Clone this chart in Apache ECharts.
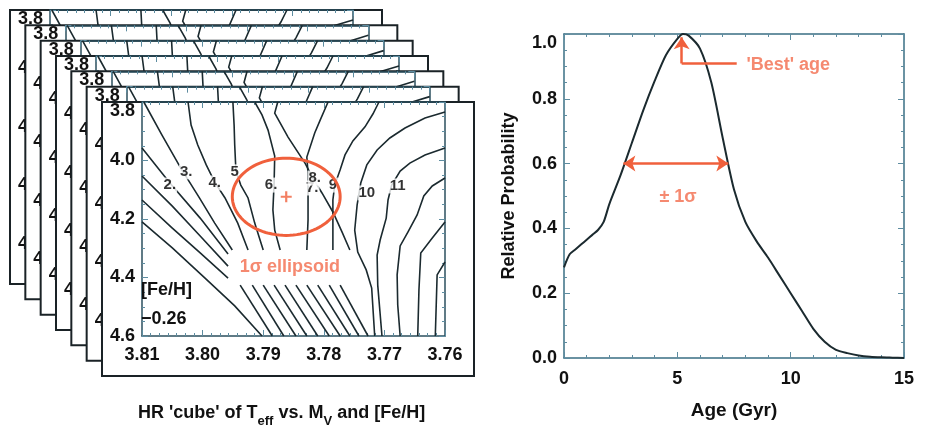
<!DOCTYPE html>
<html>
<head>
<meta charset="utf-8">
<script src="https://cdn.jsdelivr.net/npm/echarts@6/dist/echarts.min.js"></script>
<style>
  html, body { margin: 0; padding: 0; background: #ffffff; }
  #chart { width: 926px; height: 427px; }
</style>
</head>
<body>
<div id="chart"></div>
<script>
// ---------- Left panel: stacked HR diagrams, isochrones in (log Teff, Mv) ----------
const teffRange = [3.76, 3.81];
const mvRange = [3.8, 4.6];

const isoYoung1 = [[3.8100,4.210],[3.8050,4.299],[3.7996,4.402],[3.7947,4.497],[3.7902,4.600]];
const isoYoung2Upper = [[3.8100,4.135],[3.8050,4.231],[3.8004,4.316],[3.7958,4.402]];
const isoYoung2Lower = [[3.7938,4.426],[3.7885,4.600]];
const isoYoung3Upper = [[3.8100,4.053],[3.8050,4.156],[3.8004,4.258],[3.7958,4.361]];
const isoYoung3Lower = [[3.7918,4.426],[3.7866,4.600]];
const iso2Upper = [[3.8100,3.957],[3.8054,4.077],[3.8004,4.197],[3.7958,4.320]];
const iso2Lower = [[3.7900,4.426],[3.7846,4.600]];
const iso3Upper = [[3.8097,3.800],[3.8067,3.913],[3.8036,4.026],[3.8006,4.125],[3.7980,4.214],[3.7951,4.306]];
const iso3Lower = [[3.7882,4.426],[3.7828,4.600]];
const iso4Upper = [[3.8024,3.800],[3.8019,3.879],[3.8008,3.947],[3.7994,4.015],[3.7980,4.074],[3.7963,4.128],[3.7942,4.214],[3.7925,4.306]];
const iso4Lower = [[3.7864,4.426],[3.7810,4.600]];
const iso5Upper = [[3.7950,3.800],[3.7948,3.879],[3.7947,3.947],[3.7945,4.036],[3.7937,4.084],[3.7925,4.128],[3.7914,4.214],[3.7900,4.306]];
const iso5Lower = [[3.7846,4.426],[3.7791,4.600]];
const iso6Upper = [[3.7914,3.800],[3.7902,3.844],[3.7892,3.896],[3.7881,3.985],[3.7882,4.077],[3.7884,4.169],[3.7881,4.238],[3.7872,4.306]];
const iso6Lower = [[3.7828,4.426],[3.7773,4.600]];
const iso7Upper = [[3.7793,3.800],[3.7806,3.862],[3.7815,3.906],[3.7828,3.988],[3.7826,4.043],[3.7826,4.111],[3.7826,4.203],[3.7828,4.306]];
const iso7Lower = [[3.7810,4.426],[3.7757,4.600]];
const iso8Upper = [[3.7876,3.800],[3.7881,3.838],[3.7859,3.920],[3.7831,4.009],[3.7818,4.060],[3.7803,4.111],[3.7785,4.176],[3.7770,4.244],[3.7757,4.306]];
const iso8Lower = [[3.7773,4.426],[3.7727,4.600]];
const iso9Upper = [[3.7709,3.800],[3.7719,3.841],[3.7732,3.885],[3.7752,3.933],[3.7765,3.981],[3.7773,4.032],[3.7782,4.084],[3.7785,4.135],[3.7785,4.221],[3.7785,4.306]];
const iso9Lower = [[3.7791,4.426],[3.7742,4.600]];
const iso10 = [[3.7600,3.834],[3.7633,3.855],[3.7666,3.889],[3.7691,3.923],[3.7712,3.964],[3.7729,4.015],[3.7739,4.077],[3.7745,4.152],[3.7749,4.238],[3.7744,4.313],[3.7730,4.374],[3.7721,4.436],[3.7716,4.600]];
const iso11 = [[3.7600,3.957],[3.7633,3.981],[3.7658,4.009],[3.7674,4.036],[3.7688,4.084],[3.7694,4.135],[3.7697,4.197],[3.7707,4.272],[3.7712,4.323],[3.7711,4.426],[3.7704,4.600]];
const iso12 = [[3.7600,4.060],[3.7621,4.087],[3.7635,4.121],[3.7646,4.186],[3.7661,4.244],[3.7674,4.292],[3.7679,4.391],[3.7678,4.494],[3.7674,4.600]];
const iso13 = [[3.7600,4.210],[3.7621,4.265],[3.7640,4.316],[3.7643,4.443],[3.7645,4.600]];
const iso14 = [[3.7600,4.347],[3.7613,4.391],[3.7616,4.600]];

const isochroneSegments = [
  isoYoung1, isoYoung2Upper, isoYoung2Lower, isoYoung3Upper, isoYoung3Lower,
  iso2Upper, iso2Lower, iso3Upper, iso3Lower, iso4Upper, iso4Lower,
  iso5Upper, iso5Lower, iso6Upper, iso6Lower, iso7Upper, iso7Lower,
  iso8Upper, iso8Lower, iso9Upper, iso9Lower, iso10, iso11, iso12, iso13, iso14
];

// isochrone age labels (Gyr) and where they sit
const isoLabelText = ['2.', '3.', '4.', '5', '6.', '7.', '8.', '9', '10', '11'];
const isoLabelTeff = [3.8054, 3.8027, 3.7980, 3.7947, 3.7887, 3.7819, 3.7815, 3.7785, 3.7729, 3.7678];
const isoLabelMv   = [4.084, 4.039, 4.077, 4.039, 4.084, 4.094, 4.060, 4.084, 4.111, 4.087];

// best fit and its 1-sigma half widths (log Teff, Mv)
const bestFit = [3.7862, 4.124];
const sigmaHalfWidth = [0.0089, 0.132];
const ellipseCaptionAt = [3.7856, 4.364];

// ---------- Right panel: age probability ----------
const ageGyr = [0, 0.25, 0.5, 0.75, 1, 1.25, 1.5, 1.75, 2, 2.5, 3, 3.5, 4, 4.5, 5, 5.25, 5.5, 6, 6.5, 7, 7.5, 8, 8.5, 9, 9.5, 10, 10.5, 11, 11.5, 12, 12.5, 13, 13.5, 14, 14.5, 15];
const relProb = [0.28, 0.32, 0.335, 0.35, 0.365, 0.38, 0.395, 0.42, 0.475, 0.565, 0.665, 0.765, 0.855, 0.935, 0.985, 1.0, 0.995, 0.955, 0.85, 0.68, 0.52, 0.42, 0.36, 0.31, 0.255, 0.2, 0.145, 0.09, 0.05, 0.025, 0.015, 0.008, 0.004, 0.002, 0.001, 0.0];
const bestAgeArrow = [[7.62, 0.909], [5.19, 0.909], [5.19, 0.99]];
const sigmaArrow = [[2.62, 0.6], [7.25, 0.6]];
const bestAgeNoteAt = [8.05, 0.905];
const sigmaNoteAt = [5.03, 0.497];

// ---------- styling ----------
const FONT = "'Liberation Sans', Arial, Helvetica, sans-serif";
const ORANGE = '#f0603c';
const ORANGE_TEXT = '#f26c4c';
const AXIS_DARK = '#2b4f5e';
const TICK = '#5d8ca0';
const INK = '#1b2a2f';

const FRAMES = 7;
const STEP = 92 / 6;
const FRAME_W = 372, FRAME_H = 274;
const PLOT_DX = 40, PLOT_W = 303, PLOT_H = 234;

const grids = [], xAxes = [], yAxes = [], series = [];

function boxAxes(gridIndex, z, opts) {
  const common = {
    gridIndex, type: 'value', z, splitLine: { show: false },
    axisLine: { show: true, onZero: false, lineStyle: { color: opts.lineColor, width: 1.5 } },
    axisTick: { show: true, inside: true, length: 6, lineStyle: { color: TICK, width: 1 } },
    minorTick: { show: true, length: 3, lineStyle: { color: TICK, width: 1 } }
  };
  const labelStyle = { fontFamily: FONT, fontWeight: 'bold', fontSize: 18, color: '#111' };
  const xBase = Object.assign({}, common, {
    min: opts.x.min, max: opts.x.max, interval: opts.x.interval, inverse: !!opts.x.inverse
  });
  const yBase = Object.assign({}, common, {
    min: opts.y.min, max: opts.y.max, interval: opts.y.interval, inverse: !!opts.y.inverse
  });
  xAxes.push(Object.assign({}, xBase, {
    position: 'bottom',
    minorTick: Object.assign({}, common.minorTick, { splitNumber: opts.x.minor }),
    axisLabel: Object.assign({}, labelStyle, { margin: opts.x.margin, formatter: opts.x.fmt }),
    name: opts.x.name || '', nameLocation: 'middle', nameGap: opts.x.nameGap || 0,
    nameTextStyle: { fontFamily: FONT, fontWeight: 'bold', fontSize: 19, color: '#111' }
  }));
  xAxes.push(Object.assign({}, xBase, {
    position: 'top',
    minorTick: Object.assign({}, common.minorTick, { splitNumber: opts.x.minor }),
    axisLabel: { show: false }
  }));
  yAxes.push(Object.assign({}, yBase, {
    position: 'left',
    minorTick: Object.assign({}, common.minorTick, { splitNumber: opts.y.minor }),
    axisLabel: Object.assign({}, labelStyle, { margin: opts.y.margin, formatter: opts.y.fmt },
      opts.y.edgeAlign || {}),
    name: opts.y.name || '', nameLocation: 'middle', nameGap: opts.y.nameGap || 0, nameRotate: 90,
    nameTextStyle: { fontFamily: FONT, fontWeight: 'bold', fontSize: 18, color: '#111' }
  }));
  yAxes.push(Object.assign({}, yBase, {
    position: 'right',
    minorTick: Object.assign({}, common.minorTick, { splitNumber: opts.y.minor }),
    axisLabel: { show: false }
  }));
}

for (let k = 0; k < FRAMES; k++) {
  const L = 10 + STEP * k, T = 10 + STEP * k;
  const zBase = 10 + 10 * k;
  grids.push({ left: L + PLOT_DX, top: T, width: PLOT_W, height: PLOT_H, show: false });
  boxAxes(k, zBase + 1, {
    lineColor: AXIS_DARK,
    x: { min: teffRange[0], max: teffRange[1], interval: 0.01, inverse: true, minor: 7, margin: 10,
         fmt: v => v.toFixed(2) },
    y: { min: mvRange[0], max: mvRange[1], interval: 0.2, inverse: true, minor: 4, margin: 7,
         fmt: v => v.toFixed(1), edgeAlign: { verticalAlignMinLabel: 'top' } }
  });
  // white card behind this HR diagram; it hides the cards stacked behind it
  series.push({
    type: 'custom', xAxisIndex: 2 * k, yAxisIndex: 2 * k, z: zBase, silent: true, clip: false,
    data: [[teffRange[1], mvRange[0]]],
    renderItem: (params, api) => {
      const cs = params.coordSys;
      return {
        type: 'rect',
        shape: { x: cs.x - PLOT_DX, y: cs.y, width: FRAME_W, height: FRAME_H },
        style: { fill: '#ffffff', stroke: '#1a2226', lineWidth: 2 }
      };
    }
  });
  series.push({
    type: 'lines', coordinateSystem: 'cartesian2d', polyline: true,
    xAxisIndex: 2 * k, yAxisIndex: 2 * k, z: zBase + 2, silent: true,
    data: isochroneSegments.map(seg => ({ coords: seg })),
    lineStyle: { color: INK, width: 1.6, opacity: 1 }
  });
}

// front card extras
const front = 2 * (FRAMES - 1);
const frontZ = 10 + 10 * (FRAMES - 1);
series.push({
  type: 'scatter', xAxisIndex: front, yAxisIndex: front, z: frontZ + 3, silent: true,
  symbolSize: 0,
  data: isoLabelText.map((t, i) => ({ value: [isoLabelTeff[i], isoLabelMv[i]], name: t })),
  label: {
    show: true, position: 'inside', formatter: p => p.name,
    fontFamily: FONT, fontWeight: 'bold', fontSize: 15, color: '#000',
    backgroundColor: '#ffffff', padding: [0, 1]
  }
});
series.push({
  type: 'custom', xAxisIndex: front, yAxisIndex: front, z: frontZ + 4, silent: true,
  data: [[bestFit[0], bestFit[1], sigmaHalfWidth[0], sigmaHalfWidth[1]]],
  renderItem: (params, api) => {
    const c = api.coord([api.value(0), api.value(1)]);
    const s = api.size([api.value(2), api.value(3)]);
    const rx = Math.abs(s[0]), ry = Math.abs(s[1]);
    const pts = [];
    for (let i = 0; i < 96; i++) {
      const a = (i / 96) * Math.PI * 2;
      pts.push([c[0] + rx * Math.cos(a), c[1] + ry * Math.sin(a)]);
    }
    return { type: 'polygon', shape: { points: pts },
             style: { fill: 'none', stroke: ORANGE, lineWidth: 3 } };
  }
});
series.push({
  type: 'scatter', xAxisIndex: front, yAxisIndex: front, z: frontZ + 5, silent: true,
  symbol: 'path://M4,0H6V4H10V6H6V10H4V6H0V4H4Z', symbolSize: 11,
  itemStyle: { color: ORANGE },
  data: [bestFit]
});
series.push({
  type: 'scatter', xAxisIndex: front, yAxisIndex: front, z: frontZ + 5, silent: true,
  symbolSize: 0,
  data: [{ value: ellipseCaptionAt, name: '1σ ellipsoid' }],
  label: { show: true, position: 'inside', formatter: p => p.name,
           fontFamily: FONT, fontWeight: 'bold', fontSize: 18, color: ORANGE_TEXT }
});

// ---------- right panel ----------
const R = FRAMES;
grids.push({ left: 564, top: 34, width: 340, height: 324, show: false });
boxAxes(R, 1, {
  lineColor: '#3a6f84',
  x: { min: 0, max: 15, interval: 5, minor: 5, margin: 12, fmt: v => String(v),
       name: 'Age (Gyr)', nameGap: 43 },
  y: { min: 0, max: 1, interval: 0.2, minor: 4, margin: 7, fmt: v => v.toFixed(1),
       name: 'Relative Probability', nameGap: 46, edgeAlign: { verticalAlignMaxLabel: 'top' } }
});
series.push({
  type: 'line', xAxisIndex: 2 * R, yAxisIndex: 2 * R, z: 3, silent: true,
  data: ageGyr.map((a, i) => [a, relProb[i]]),
  showSymbol: false, symbol: 'none', smooth: 0.25,
  lineStyle: { color: INK, width: 2 },
  markLine: {
    silent: true, animation: false, symbolSize: [12, 12],
    label: { show: false },
    lineStyle: { color: ORANGE, width: 2.5, type: 'solid' },
    data: [
      [{ coord: bestAgeArrow[0], symbol: 'none' }, { coord: bestAgeArrow[1], symbol: 'none' }],
      [{ coord: bestAgeArrow[1], symbol: 'none' }, { coord: bestAgeArrow[2], symbol: 'arrow' }],
      [{ coord: sigmaArrow[0], symbol: 'arrow' }, { coord: sigmaArrow[1], symbol: 'arrow' }]
    ]
  }
});
series.push({
  type: 'scatter', xAxisIndex: 2 * R, yAxisIndex: 2 * R, z: 4, silent: true, symbolSize: 0,
  data: [
    { value: bestAgeNoteAt, name: "'Best' age", label: { position: 'right', distance: 0 } },
    { value: sigmaNoteAt, name: '± 1σ', label: { position: 'inside' } }
  ],
  label: { show: true, formatter: p => p.name, fontFamily: FONT, fontWeight: 'bold',
           fontSize: 18, color: ORANGE_TEXT }
});

const option = {
  animation: false,
  backgroundColor: '#ffffff',
  grid: grids, xAxis: xAxes, yAxis: yAxes, series,
  graphic: { elements: [
    { type: 'text', left: 141, top: 281, z: 200,
      style: { text: '[Fe/H]', font: 'bold 18px ' + FONT, fill: '#111' } },
    { type: 'text', left: 141, top: 310, z: 200,
      style: { text: '\u22120.26', font: 'bold 18px ' + FONT, fill: '#111' } },
    { type: 'text', left: 138, top: 404, z: 200,
      style: {
        text: "{m|HR 'cube' of T}{s|eff}{m| vs. M}{s|V}{m| and [Fe/H]}",
        rich: {
          m: { fontFamily: FONT, fontWeight: 'bold', fontSize: 18, lineHeight: 18, verticalAlign: 'top', fill: '#111', color: '#111' },
          s: { fontFamily: FONT, fontWeight: 'bold', fontSize: 13, lineHeight: 24, verticalAlign: 'bottom', fill: '#111', color: '#111' }
        }
      } }
  ] }
};

const chart = echarts.init(document.getElementById('chart'), null, { renderer: 'canvas' });
chart.setOption(option);
</script>
</body>
</html>
